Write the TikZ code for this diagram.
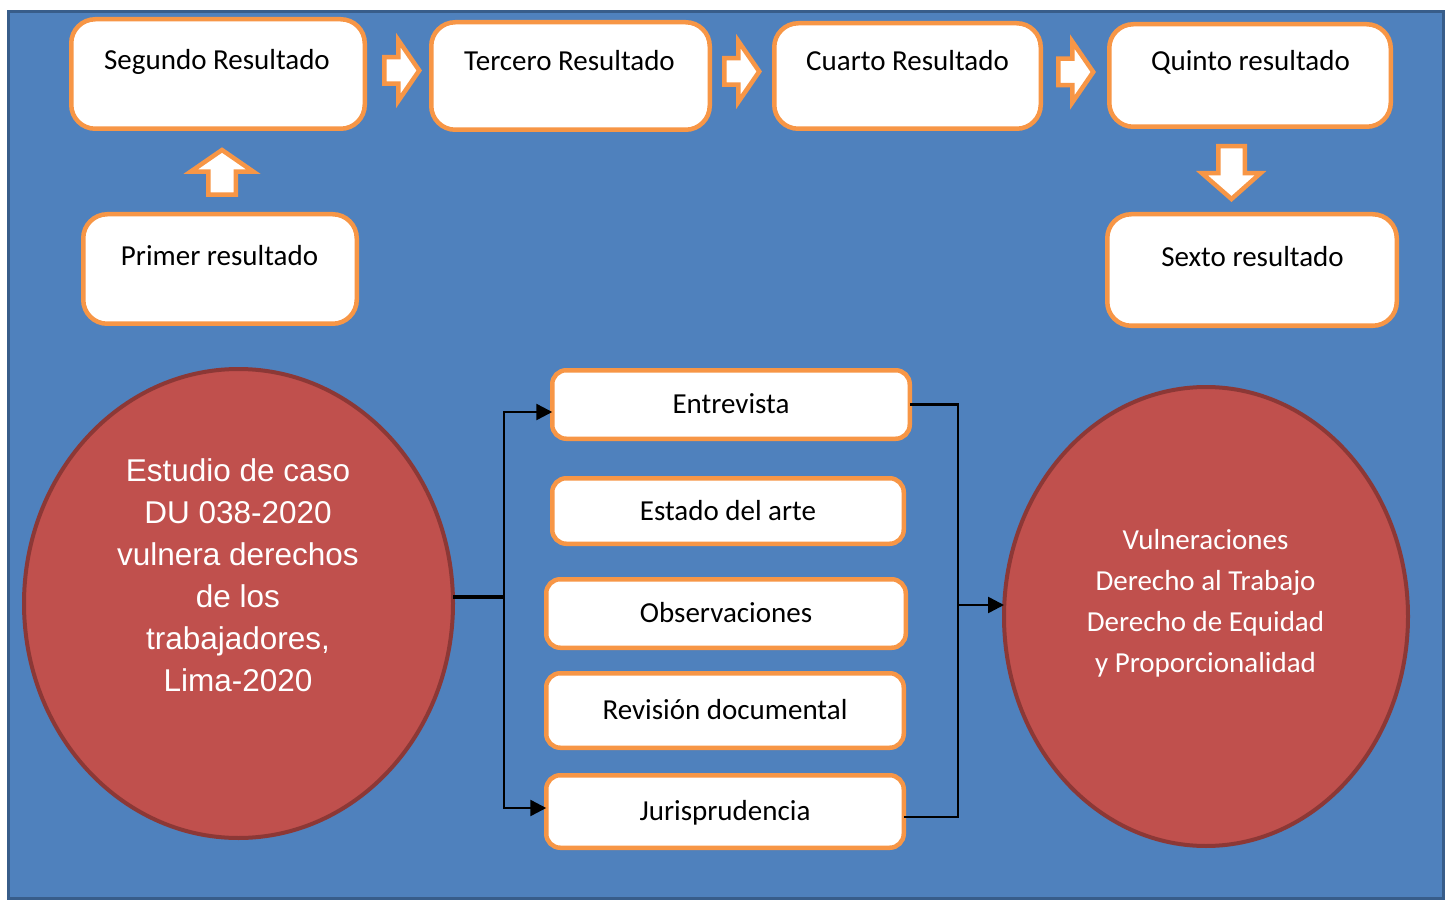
\documentclass[tikz,border=0pt]{standalone}
\usepackage{fontspec}
\setmainfont{Carlito}
\newfontfamily\arialfont{Liberation Sans}
\usetikzlibrary{shapes.geometric,arrows.meta}
\definecolor{bgblue}{HTML}{4F81BD}
\definecolor{bgedge}{HTML}{385D8A}
\definecolor{orng}{HTML}{F79646}
\definecolor{redfill}{HTML}{C0504D}
\definecolor{rededge}{HTML}{8C3836}
\begin{document}
\begin{tikzpicture}[x=1pt,y=-1pt,
  resbox/.style={draw=orng, line width=4.5pt, fill=white, rounded corners=24pt, inner sep=0pt, outer sep=0pt},
  midbox/.style={draw=orng, line width=4.5pt, fill=white, rounded corners=14pt, inner sep=0pt, outer sep=0pt,
     font=\fontsize{29}{35}\selectfont, text height=22pt, text depth=4pt},
  blockarrow/.style={draw=orng, line width=4.5pt, fill=white, line join=miter},
  txt/.style={font=\fontsize{29}{35}\selectfont, text=black, inner sep=0pt, text height=22pt, text depth=4pt},
  oval/.style={ellipse, draw=rededge, line width=4pt, fill=redfill, inner sep=0pt, outer sep=0pt},
  conn/.style={draw=black, line width=2.5pt},
  tip/.style={-{Triangle[length=16pt,width=16pt]}},
  rarrow/.pic={\draw[blockarrow] (0,-13.25) -- (14,-13.25) -- (14,-30.5) -- (35,0) -- (14,30.5) -- (14,13.25) -- (0,13.25) -- cycle;}
]
\useasboundingbox (0,0) rectangle (1451,901);
\draw[fill=bgblue, draw=bgedge, line width=3pt] (8.5,11.5) rectangle (1443.5,898.5);

% top result boxes
\node[resbox, minimum width=293.5pt, minimum height=109.5pt] (s2) at (218,74) {};
\node[resbox, minimum width=278.5pt, minimum height=107.5pt] (s3) at (570.5,76) {};
\node[resbox, minimum width=266.5pt, minimum height=105.5pt] (s4) at (907.5,76) {};
\node[resbox, minimum width=281.5pt, minimum height=102.5pt] (s5) at (1250,75.5) {};
\node[resbox, minimum width=289.5pt, minimum height=111.5pt] (s6) at (1252,270) {};
\node[resbox, minimum width=273.5pt, minimum height=109.5pt] (s1) at (220,269) {};

\node[txt] (s2t) at (217,61) {Segundo Resultado};
\node[txt] (s3t) at (569.5,62) {Tercero Resultado};
\node[txt] (s4t) at (907.5,62) {Cuarto Resultado};
\node[txt] (s5t) at (1250.5,62) {Quinto resultado};
\node[txt] (s6t) at (1252.5,258) {Sexto resultado};
\node[txt] (s1t) at (219.5,257) {Primer resultado};

% block arrows
\pic at (384.25,70.5) {rarrow};
\pic at (724.25,71.5) {rarrow};
\pic at (1058.25,72) {rarrow};
\draw[blockarrow] (222,150) -- (253.5,171.75) -- (235.75,171.75) -- (235.75,194.75) -- (208.25,194.75) -- (208.25,171.75) -- (190.5,171.75) -- cycle;
\draw[blockarrow] (1218.25,146.25) -- (1244.75,146.25) -- (1244.75,173.25) -- (1260.5,173.25) -- (1231.5,199) -- (1202,173.25) -- (1218.25,173.25) -- cycle;

% ellipses
\node[oval, minimum width=429pt, minimum height=469pt] (L) at (238.5,603.5) {};
\node[oval, minimum width=404pt, minimum height=459pt] (R) at (1206,616.5) {};
\node[text=white, align=center, inner sep=0pt, font=\arialfont\fontsize{31.5}{42}\selectfont] (Lt) at (238,575.5)
  {Estudio de caso\\DU 038-2020\\vulnera derechos\\de los\\trabajadores,\\Lima-2020};
\node[text=white, align=center, inner sep=0pt, font=\fontsize{29}{41}\selectfont] (Rt) at (1205.5,603.5)
  {Vulneraciones\\Derecho al Trabajo\\Derecho de Equidad\\y Proporcionalidad};

% middle boxes
\node[midbox, minimum width=357.5pt, minimum height=68.5pt] (E) at (731,404.5) {Entrevista};
\node[midbox, minimum width=351.5pt, minimum height=65.5pt] (A) at (728,511) {Estado del arte};
\node[midbox, minimum width=359.5pt, minimum height=68.5pt] (O) at (726,613.5) {Observaciones};
\node[midbox, minimum width=357.5pt, minimum height=74.5pt] (V) at (725,710.5) {Revisión documental};
\node[midbox, minimum width=357.5pt, minimum height=72.5pt] (J) at (725,811.5) {Jurisprudencia};

% connectors
\coordinate (jl) at (504,597);
\coordinate (jr) at (958,605);
\draw[conn, line width=3.5pt] (L.east |- jl) -- (jl);
\draw[conn, tip] (jl) |- ([yshift=-7.5pt]E.west);
\draw[conn, tip] (jl) |- ([yshift=3.5pt]J.west);
\draw[conn] (E.east) -| (jr);
\draw[conn] ([yshift=-5.5pt]J.east) -| (jr);
\draw[conn, tip] (jr) -- (R.west |- jr);
\end{tikzpicture}
\end{document}
